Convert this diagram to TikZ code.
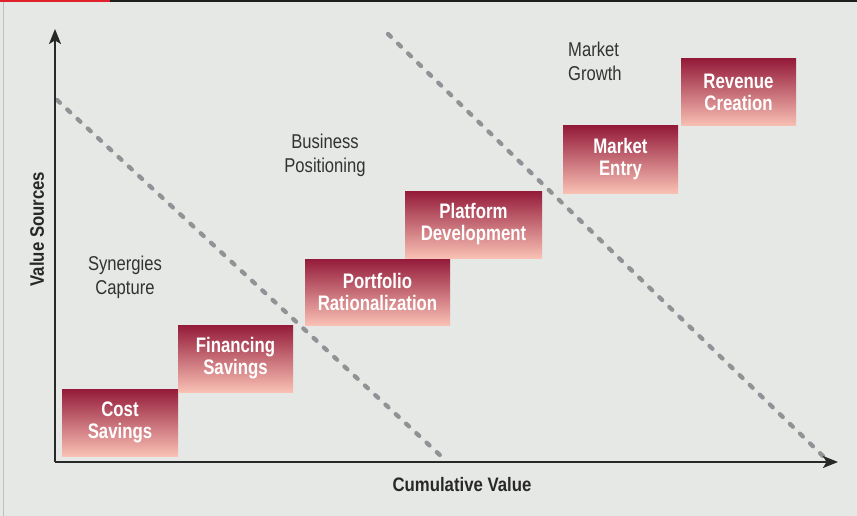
\documentclass[tikz,border=0pt]{standalone}
\usepackage{fontspec}
\setmainfont{Liberation Sans}
\newfontfamily\boxcond{Liberation Sans}[FakeStretch=0.80]
\newfontfamily\axiscond{Liberation Sans}[FakeStretch=0.86]
\newfontfamily\lightcond{Liberation Sans}[FakeStretch=0.83]
\usetikzlibrary{arrows.meta}
\definecolor{paper}{RGB}{230,232,229}
\definecolor{boxtop}{RGB}{148,27,58}
\definecolor{boxbot}{RGB}{249,192,180}
\definecolor{dashgray}{RGB}{144,146,149}
\definecolor{axisdark}{RGB}{40,40,40}
\definecolor{labelgray}{RGB}{50,50,50}
\definecolor{barred}{RGB}{224,32,42}
\definecolor{barblack}{RGB}{30,30,30}
\definecolor{edgegray}{RGB}{190,190,190}
\tikzset{
  valuebox/.style={rectangle, anchor=north west, inner sep=0pt, outer sep=0pt,
    top color=boxtop, bottom color=boxbot, text=white, align=center,
    font=\boxcond\bfseries\fontsize{21}{22}\selectfont},
  zonelabel/.style={text=labelgray, inner sep=0pt,
    font=\lightcond\fontsize{20}{24}\selectfont},
  axislabel/.style={text=axisdark, inner sep=0pt,
    font=\axiscond\bfseries\fontsize{19.5}{21}\selectfont},
  axisline/.style={draw=axisdark, line width=1.6pt,
    -{Stealth[length=15pt,width=12pt,inset=3.5pt]}},
  zoneline/.style={draw=dashgray, line width=4.3pt, line cap=round,
    dash pattern=on 4pt off 10pt}
}
\begin{document}
\begin{tikzpicture}[x=1pt,y=-1pt]
  % page
  \useasboundingbox (0,0) rectangle (857,516);
  \fill[paper] (0,0) rectangle (857,516);
  \fill[barblack] (110,0) rectangle (857,2.2);
  \fill[barred] (0,0) rectangle (110,2.2);
  \draw[edgegray, line width=1.5pt] (3.5,2.2) -- (3.5,516);

  % axis anchors
  \coordinate (origin) at (55,462);
  \coordinate (ytip) at (55,29);
  \coordinate (xtip) at (838,462);

  % zone separators
  \coordinate (s1a) at (57,100);
  \coordinate (s1b) at (442,457);
  \coordinate (s2a) at (388,34);
  \coordinate (s2b) at (824,457);
  \draw[zoneline] (s1a) -- (s1b);
  \draw[zoneline] (s2a) -- (s2b);

  % axes
  \draw[axisline] (origin) -- (ytip);
  \draw[axisline] (origin) -- (xtip);

  % value steps
  \node[valuebox, minimum width=116pt, minimum height=67pt] (cost) at (62,389) {Cost\\Savings};
  \node[valuebox, minimum width=115pt, minimum height=67pt] (fin) at (178,325) {Financing\\Savings};
  \node[valuebox, minimum width=145pt, minimum height=66pt] (port) at (305,259) {Portfolio\\Rationalization};
  \node[valuebox, minimum width=137pt, minimum height=67pt] (plat) at (405,191) {Platform\\Development};
  \node[valuebox, minimum width=115pt, minimum height=67pt] (entry) at (563,126) {Market\\Entry};
  \node[valuebox, minimum width=115pt, minimum height=67pt] (rev) at (681,59) {Revenue\\Creation};

  % zone labels
  \node[zonelabel, align=center] (syn) at (125,277) {Synergies\\Capture};
  \node[zonelabel, align=center] (bus) at (325,155) {Business\\Positioning};
  \node[zonelabel, align=left, anchor=west] (mkt) at (568,61) {Market\\Growth};

  % axis titles
  \node[axislabel] (xlab) at (462,485) {Cumulative Value};
  \node[axislabel, rotate=90] (ylab) at (37,229) {Value Sources};
\end{tikzpicture}
\end{document}
